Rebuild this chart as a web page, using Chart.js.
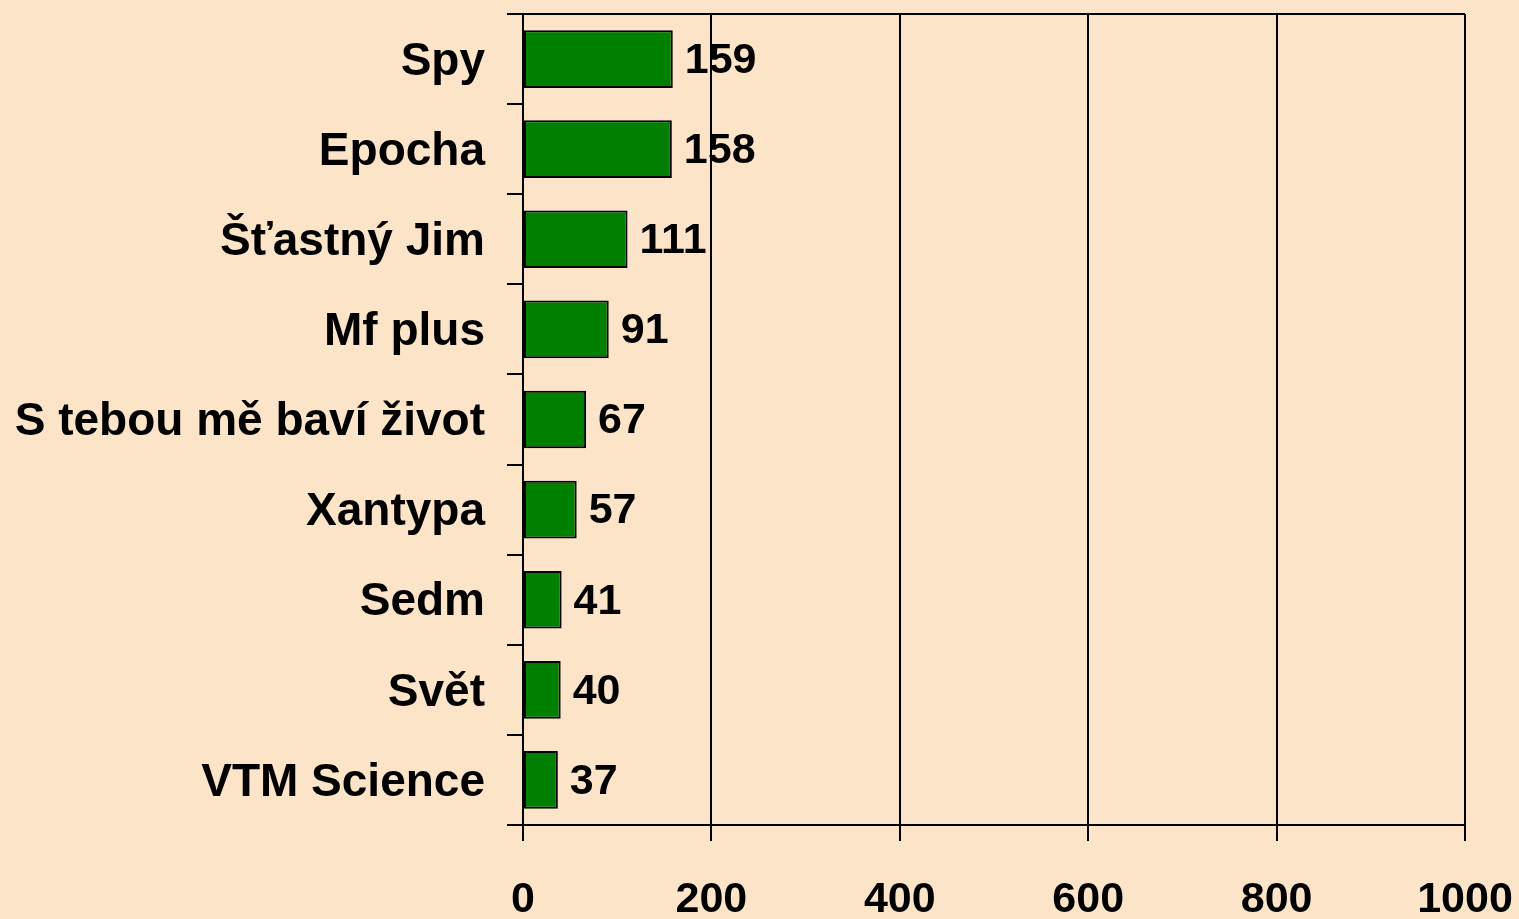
<!DOCTYPE html>
<html>
<head>
<meta charset="utf-8">
<script src="https://cdn.jsdelivr.net/npm/chart.js@4/dist/chart.umd.min.js"></script>
<style>
  html, body { margin: 0; padding: 0; background: #FCE4C8; }
  #wrap { width: 1519px; height: 919px; position: relative; }
</style>
</head>
<body>
<div id="wrap"><canvas id="c"></canvas></div>
<script>
const categories = ["Spy", "Epocha", "Šťastný Jim", "Mf plus", "S tebou mě baví život", "Xantypa", "Sedm", "Svět", "VTM Science"];
const values = [159, 158, 111, 91, 67, 57, 41, 40, 37];
const xTicks = [0, 200, 400, 600, 800, 1000];

const FONT = "'Liberation Sans', Arial, sans-serif";

const extras = {
  id: 'extras',
  beforeDraw(chart) {
    const c = chart.ctx;
    c.save();
    c.fillStyle = '#FCE4C8';
    c.fillRect(0, 0, chart.width, chart.height);
    c.restore();
  },
  afterDatasetsDraw(chart) {
    const c = chart.ctx;
    const a = chart.chartArea;
    c.save();
    c.strokeStyle = '#000';
    c.lineWidth = 2;
    c.beginPath();
    c.moveTo(a.left - 16, a.top);
    c.lineTo(a.right, a.top);
    c.stroke();
    const meta = chart.getDatasetMeta(0);
    c.fillStyle = '#000';
    c.font = 'bold 43px ' + FONT;
    c.textAlign = 'left';
    c.textBaseline = 'middle';
    meta.data.forEach((bar, i) => {
      c.fillText(String(values[i]), bar.x + 12, bar.y + 2);
    });
    c.restore();
  }
};

new Chart(document.getElementById('c'), {
  type: 'bar',
  data: {
    labels: categories,
    datasets: [{
      data: values,
      backgroundColor: '#008000',
      borderColor: '#000',
      borderWidth: 2,
      borderSkipped: false,
      barPercentage: 0.64,
      categoryPercentage: 1
    }]
  },
  options: {
    indexAxis: 'y',
    responsive: true,
    maintainAspectRatio: false,
    animation: false,
    devicePixelRatio: 1,
    layout: { padding: { top: 14, right: 54, left: 0, bottom: 0 } },
    plugins: { legend: { display: false }, tooltip: { enabled: false } },
    scales: {
      x: {
        type: 'linear',
        min: 0,
        max: 1000,
        afterBuildTicks(scale) { scale.ticks = xTicks.map(v => ({ value: v })); },
        afterFit(scale) { scale.height = 94; scale.paddingLeft = 0; scale.paddingRight = 0; },
        border: { display: true, color: '#000', width: 2 },
        grid: { display: true, color: '#000', lineWidth: 2, tickLength: 16, drawOnChartArea: true, tickColor: '#000' },
        ticks: { color: '#000', font: { family: FONT, size: 43, weight: 'bold' }, padding: 33, maxRotation: 0, callback: v => String(v) }
      },
      y: {
        type: 'category',
        afterFit(scale) { scale.width = 523; scale.paddingTop = 0; scale.paddingBottom = 0; },
        border: { display: true, color: '#000', width: 2 },
        grid: { display: true, offset: true, drawOnChartArea: false, tickLength: 16, color: '#000', lineWidth: 2, tickColor: '#000' },
        ticks: { color: '#000', font: { family: FONT, size: 46, weight: 'bold' }, padding: 22, labelOffset: 3 }
      }
    }
  },
  plugins: [extras]
});
</script>
</body>
</html>
